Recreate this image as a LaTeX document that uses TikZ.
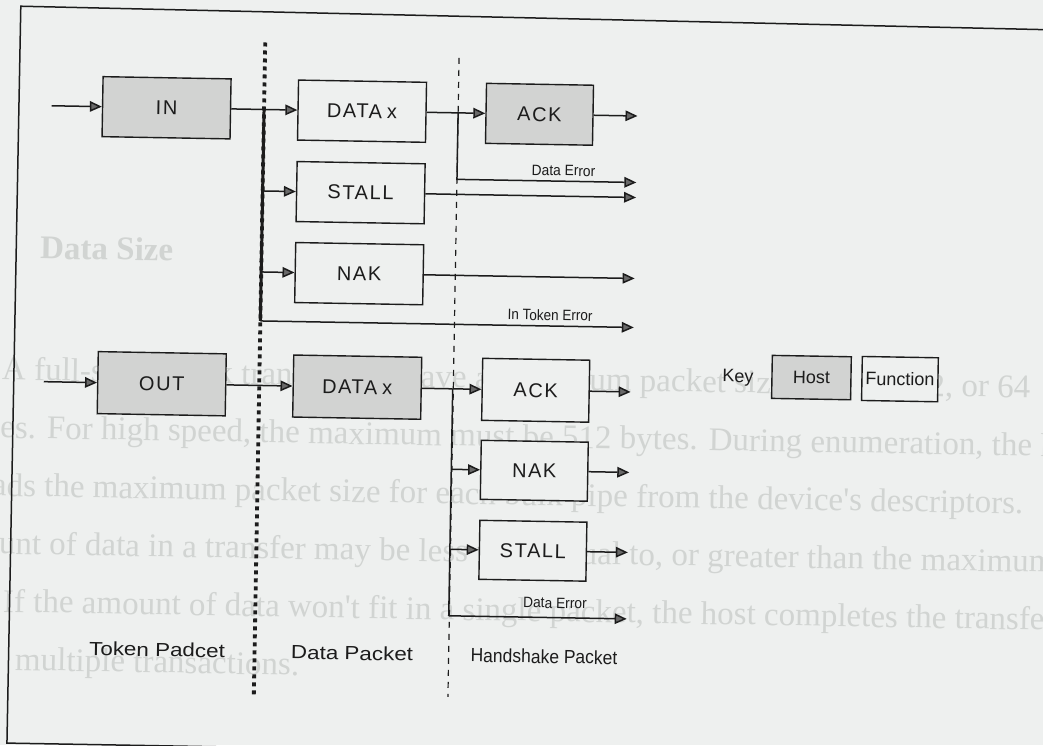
\documentclass[tikz,border=0pt]{standalone}
\usepackage{fontspec}
\setmainfont{Liberation Sans}
\newfontfamily\boxfont[LetterSpace=8]{Liberation Sans}
\newfontfamily\pagefont{Liberation Serif}
\usetikzlibrary{arrows.meta}

\definecolor{paper}{RGB}{238,240,239}
\definecolor{hostgray}{RGB}{210,211,210}
\definecolor{ink}{RGB}{28,28,28}
\definecolor{tipgray}{RGB}{105,105,105}
\definecolor{ghost}{RGB}{209,212,210}

\begin{document}
\begin{tikzpicture}[x=1pt,y=-1pt,
  pkt/.style={draw=ink, line width=1.4pt, minimum width=128pt, minimum height=60pt,
              inner sep=0pt, text=ink, font=\boxfont\fontsize{20}{20}\selectfont},
  host/.style={pkt, fill=hostgray},
  func/.style={pkt, fill=paper},
  narrow/.style={minimum width=107pt},
  flow/.style={draw=ink, line width=1.5pt, -{Triangle[length=12pt,width=10.5pt,fill=tipgray]}},
  wire/.style={draw=ink, line width=1.5pt},
  bus/.style={draw=ink, line width=3pt},
  dotsep/.style={draw=ink, line width=3.8pt, dash pattern=on 4pt off 4pt},
  dashsep/.style={draw=ink, line width=1.2pt, dash pattern=on 6pt off 6pt},
  frame/.style={draw=ink, line width=1.5pt},
  errlabel/.style={inner sep=0pt, text=ink, font=\fontsize{15}{15}\selectfont},
  seclabel/.style={inner sep=0pt, text=ink, font=\fontsize{19}{19}\selectfont},
  keylabel/.style={inner sep=0pt, text=ink, font=\fontsize{18}{18}\selectfont},
  pagetext/.style={inner sep=0pt, anchor=base west, text=ghost, font=\pagefont\fontsize{33}{33}\selectfont}
]
\useasboundingbox (0,0) rectangle (1043,745);
\fill[paper] (0,0) rectangle (1043,745);
\clip (0,0) rectangle (1043,745);

\begin{scope}[rotate around={-1:(521,372)}, transform shape]

% page text showing through behind the figure
\node[pagetext, font=\pagefont\bfseries\fontsize{33}{33}\selectfont] (hd) at (38,267) {Data Size};
\node[pagetext] (pg1) at (2,389) {A full-speed bulk transfer can have a maximum packet size of 8, 16, 32, or 64};
\node[pagetext] (pg2) at (-41,447) {bytes. For high speed, the maximum must be 512 bytes. During enumeration, the host};
\node[pagetext] (pg3) at (-95,505) {host reads the maximum packet size for each bulk pipe from the device's descriptors.};
\node[pagetext] (pg4) at (-55,563) {amount of data in a transfer may be less than, equal to, or greater than the maximum};
\node[pagetext] (pg5) at (7,621) {If the amount of data won't fit in a single packet, the host completes the transfer in};
\node[pagetext] (pg6) at (20,679) {multiple transactions.};

% outer frame
\coordinate (fTR) at (1120,21);
\coordinate (fTL) at (14.5,15);
\coordinate (fBL) at (13.5,752);
\coordinate (fBR) at (1120,752);
\draw[frame] (fTR) -- (fTL) -- (fBL) -- (fBR);

% phase separators
\coordinate (sepA1) at (259.5,47);
\coordinate (sepA2) at (259.5,702);
\coordinate (sepB1) at (453.6,59);
\coordinate (sepB2) at (453.6,698);
\draw[dotsep] (sepA1) -- (sepA2);
\draw[dashsep] (sepB1) -- (sepB2);

% IN transaction
\node[host] (in) at (162,114) {IN};
\node[func] (dx1) at (357.5,114) {DATA\kern5pt x};
\node[func] (st1) at (357.5,195.5) {STALL};
\node[func] (nk1) at (357.5,276.5) {NAK};
\node[host, narrow] (ak1) at (535,114) {ACK};

% OUT transaction
\node[host, minimum height=62pt] (out) at (162,390) {OUT};
\node[host, minimum height=62pt] (dx2) at (357.5,390) {DATA\kern5pt x};
\node[func, narrow, minimum height=62pt] (ak2) at (536,390) {ACK};
\node[func, narrow, minimum height=59pt] (nk2) at (536,470.5) {NAK};
\node[func, narrow, minimum height=59pt] (st2) at (536,550.5) {STALL};

% key
\node[keylabel] (key) at (738,374) {Key};
\node[host, minimum width=79pt, minimum height=43pt, font=\fontsize{18}{18}\selectfont] (hostkey) at (811.5,372.5) {Host};
\node[func, minimum width=76pt, minimum height=44pt, font=\fontsize{18}{18}\selectfont] (fnkey) at (900,372.5) {Function};

% IN transaction connectors
\coordinate (inSrc) at (47,114);
\coordinate (busTop) at (259.5,114);
\coordinate (busBot) at (259.5,325.5);
\coordinate (tokErr) at (633,325.5);
\coordinate (split1) at (453.6,114);
\coordinate (bend1) at (453.6,180.5);
\coordinate (dErr1) at (633,180.5);
\draw[flow] (inSrc) -- (in.west);
\draw[wire] (in.east) -- (busTop);
\draw[bus] (busTop) -- (busBot);
\draw[flow] (busTop) -- (dx1.west);
\draw[flow] (busTop |- st1) -- (st1.west);
\draw[flow] (busTop |- nk1) -- (nk1.west);
\draw[flow] (busBot) -- (tokErr);
\draw[flow] (dx1.east) -- (ak1.west);
\draw[flow] (ak1.east) -- (ak1.east -| tokErr);
\draw[flow] (split1) -- (bend1) -- (dErr1);
\draw[flow] (st1.east) -- (st1.east -| tokErr);
\draw[flow] (nk1.east) -- (nk1.east -| tokErr);
\node[errlabel, xscale=0.92] (de1) at (560,170) {Data Error};
\node[errlabel, xscale=0.9] (te) at (549,314.5) {In Token Error};

% OUT transaction connectors
\coordinate (outSrc) at (44,390);
\coordinate (split2) at (453,390);
\coordinate (bend2) at (453,617);
\coordinate (dErr2) at (631,617);
\draw[flow] (outSrc) -- (out.west);
\draw[flow] (out.east) -- (dx2.west);
\draw[wire] (dx2.east) -- (split2);
\draw[wire] (split2) -- (bend2);
\draw[flow] (split2) -- (ak2.west);
\draw[flow] (split2 |- nk2) -- (nk2.west);
\draw[flow] (split2 |- st2) -- (st2.west);
\draw[flow] (bend2) -- (dErr2);
\draw[flow] (ak2.east) -- (ak2.east -| dErr2);
\draw[flow] (nk2.east) -- (nk2.east -| dErr2);
\draw[flow] (st2.east) -- (st2.east -| dErr2);
\node[errlabel, xscale=0.92] (de2) at (559,602.5) {Data Error};

% phase names
\node[seclabel, xscale=1.18] (tok) at (162,656) {Token Padcet};
\node[seclabel, xscale=1.18] (dat) at (357,656) {Data Packet};
\node[seclabel, xscale=0.92] (hs) at (549,656) {Handshake Packet};

\end{scope}
\end{tikzpicture}
\end{document}
